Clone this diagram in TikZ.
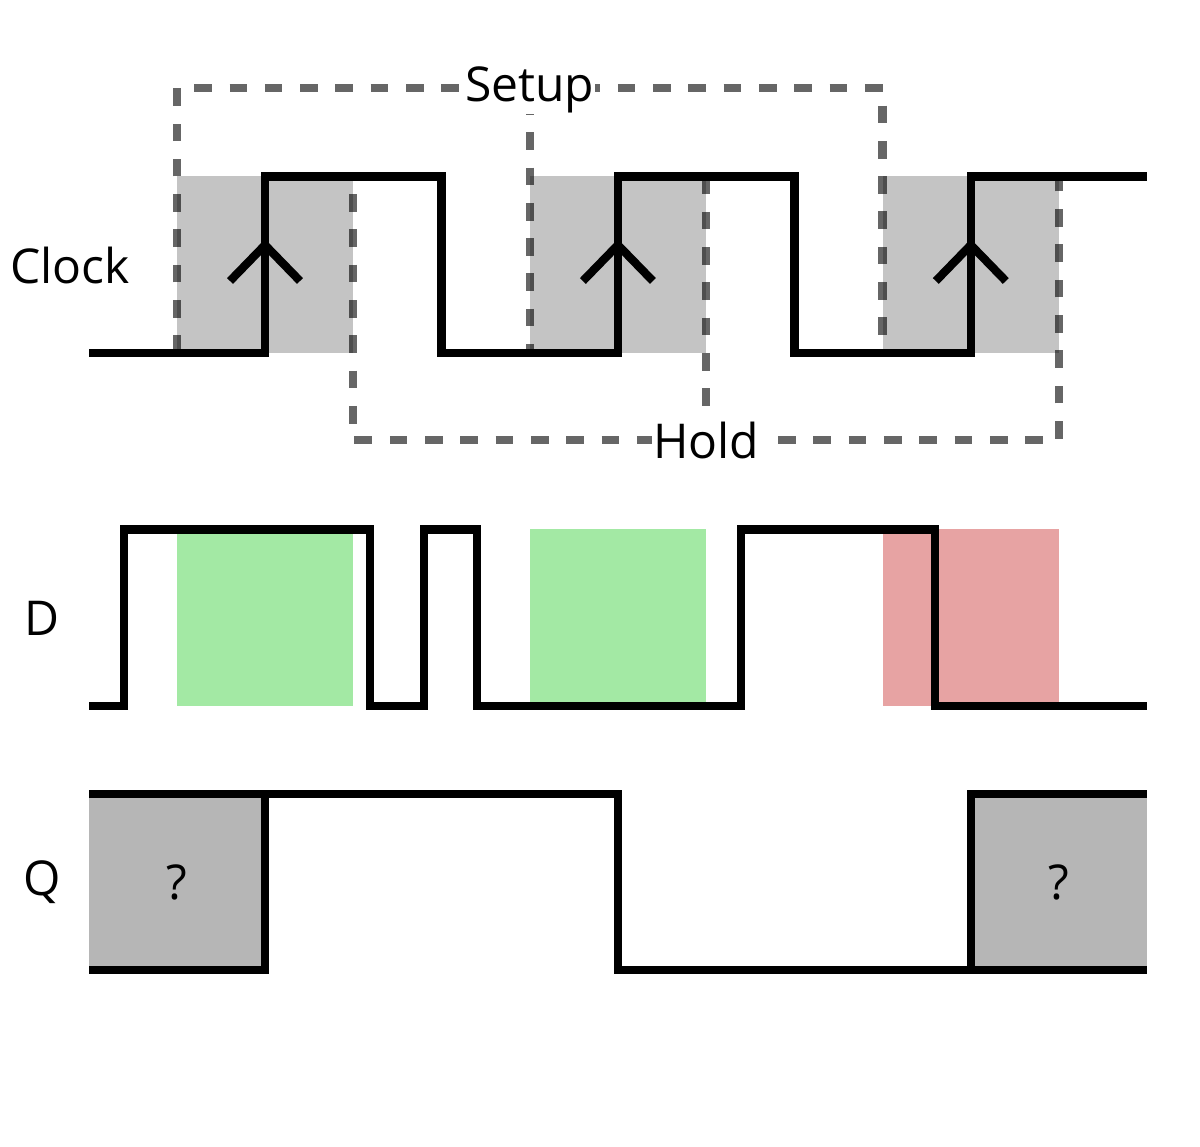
\documentclass[tikz,border=0pt]{standalone}
\usepackage{fontspec}
\setmainfont{Open Sans}
\definecolor{winGray}{HTML}{C4C4C4}
\definecolor{okGreen}{HTML}{A3E9A4}
\definecolor{badRed}{HTML}{E7A3A3}
\definecolor{qGray}{HTML}{B6B6B6}
\begin{document}
\begin{tikzpicture}[x=1pt,y=-1pt,
  sig/.style={line width=8.3pt, draw=black, line join=miter, line cap=butt},
  guide/.style={line width=8.3pt, draw=black, draw opacity=0.6, dash pattern=on 17.65pt off 17.65pt},
  lbl/.style={font=\fontsize{48}{56}\selectfont, inner sep=0pt, anchor=base},
  tag/.style={lbl, fill=white, inner xsep=1pt, inner ysep=0pt}
]
\useasboundingbox (0,0) rectangle (1200,1147);
% clock edges
\coordinate (e1) at (265,0);
\coordinate (e2) at (617.9,0);
\coordinate (e3) at (970.8,0);
% clock windows
\fill[winGray] (176.8,176.5) rectangle (353.2,353);
\fill[winGray] (529.7,176.5) rectangle (706.1,353);
\fill[winGray] (882.6,176.5) rectangle (1059,353);
% D windows
\fill[okGreen] (176.8,529.4) rectangle (353.2,705.9);
\fill[okGreen] (529.7,529.4) rectangle (706.1,705.9);
\fill[badRed] (882.6,529.4) rectangle (1059,705.9);
% Q unknown regions
\fill[qGray] (89,794) rectangle (265,970);
\fill[qGray] (970.8,794) rectangle (1147,970);
% setup / hold guides
\draw[guide] (176.8,353) -- (176.8,88) -- (882.6,88) -- (882.6,353);
\draw[guide] (529.7,97) -- (529.7,353);
\draw[guide, dash phase=17.65pt] (353.2,176.5) -- (353.2,440) -- (1059,440) -- (1059,176.5);
\draw[guide] (706.1,176.5) -- (706.1,440);
% clock
\draw[sig] (89,353) -- (265,353) -- (265,176.5) -- (441.5,176.5) -- (441.5,353) -- (617.9,353) -- (617.9,176.5) -- (794.4,176.5) -- (794.4,353) -- (970.8,353) -- (970.8,176.5) -- (1147,176.5);
\foreach \e in {e1,e2,e3}{
  \draw[sig] ([shift={(-35,281)}]\e) -- ([shift={(0,245)}]\e) -- ([shift={(35,281)}]\e);
}
% D
\draw[sig] (89,705.9) -- (124,705.9) -- (124,529.4) -- (370,529.4) -- (370,705.9) -- (424,705.9) -- (424,529.4) -- (477,529.4) -- (477,705.9) -- (741,705.9) -- (741,529.4) -- (935,529.4) -- (935,705.9) -- (1147,705.9);
% Q
\draw[sig] (89,794) -- (617.9,794) -- (617.9,970) -- (1147,970);
\draw[sig] (89,970) -- (265,970) -- (265,794);
\draw[sig] (970.8,970) -- (970.8,794) -- (1147,794);
% labels
\node[tag] (setup) at (529.7,102) {Setup};
\node[tag] (hold) at (706.1,459) {Hold};
\node[lbl] (clk) at (70,284) {Clock};
\node[lbl] (dlbl) at (42,635) {D};
\node[lbl] (qlbl) at (42.5,895) {Q};
\node[lbl] (q1) at (176.8,899) {?};
\node[lbl] (q2) at (1059,899) {?};
\end{tikzpicture}
\end{document}
